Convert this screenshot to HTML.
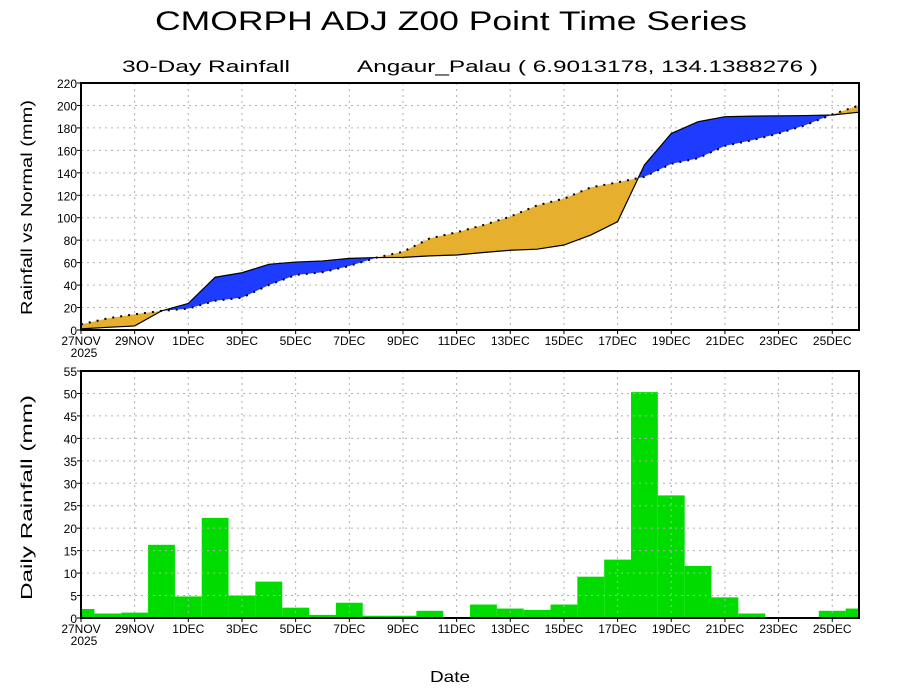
<!DOCTYPE html>
<html><head><meta charset="utf-8"><style>
html,body{margin:0;padding:0;background:#fff}
svg{display:block;font-family:"Liberation Sans",sans-serif}
</style></head><body>
<svg id="s" width="900" height="700" xmlns="http://www.w3.org/2000/svg"></svg>
<script>
const s=document.getElementById('s');
const X0=81,DX=26.83,XR=859;
const X=i=>X0+DX*i;
let h='';
h+='<text x="155" y="30" font-size="27" textLength="592" lengthAdjust="spacingAndGlyphs">CMORPH ADJ Z00 Point Time Series</text>';
h+='<text x="122" y="72" font-size="17" textLength="168" lengthAdjust="spacingAndGlyphs">30-Day Rainfall</text>';
h+='<text x="357" y="72" font-size="17" textLength="461" lengthAdjust="spacingAndGlyphs">Angaur_Palau ( 6.9013178, 134.1388276 )</text>';
const labels=['27NOV','29NOV','1DEC','3DEC','5DEC','7DEC','9DEC','11DEC','13DEC','15DEC','17DEC','19DEC','21DEC','23DEC','25DEC'];
function panel(yTop,yBot,max,step){
  const sc=(yBot-yTop)/max;
  const Y=v=>yBot-v*sc;
  let g='';
  for(let v=step;v<max;v+=step){g+=`<line x1="${X0}" x2="${XR}" y1="${Y(v)}" y2="${Y(v)}" stroke="#b0b0b0" stroke-dasharray="2,4"/>`;}
  for(let i=2;i<29;i+=2){g+=`<line x1="${X(i)}" x2="${X(i)}" y1="${yTop}" y2="${yBot}" stroke="#b0b0b0" stroke-dasharray="2,4"/>`;}
  return {Y,g};
}
const act=[1,2.4,3.6,17,23.7,47,51,58.5,60.5,61.5,63.8,64.5,64.7,66,66.8,69,71,72,75.7,84.6,96.5,147,175,185.5,190,190.5,190.7,191,191.5,194];
const nor=[5,10.4,14,17,19,26,28.8,40,49,51.4,57,64.4,69.7,81.6,87,93.5,101,111,117,127,131.5,136.5,148,153,164,169,175,182.5,192,200];
let T=panel(83,330,220,20);
h+=T.g;
const pa=act.map((v,i)=>`${X(i)},${T.Y(v)}`).join(' ');
const pn=nor.map((v,i)=>`${X(i)},${T.Y(v)}`).join(' ');
h+=`<defs><clipPath id="ua"><polygon points="${X0},330 ${pa} ${XR},330"/></clipPath><clipPath id="un"><polygon points="${X0},330 ${pn} ${XR},330"/></clipPath></defs>`;
h+=`<polygon points="${X0},83 ${pn} ${XR},83" fill="#1E3CFF" clip-path="url(#ua)"/>`;
h+=`<polygon points="${X0},83 ${pa} ${XR},83" fill="#E6AF2E" clip-path="url(#un)"/>`;
h+=`<polyline points="${pa}" fill="none" stroke="#000" stroke-width="1.2"/>`;
h+=`<polyline points="${pn}" fill="none" stroke="#000" stroke-width="2" stroke-dasharray="2,6"/>`;
h+=`<rect x="${X0}" y="83" width="${XR-X0}" height="247" fill="none" stroke="#000" stroke-width="2"/>`;
for(let v=0;v<=220;v+=20){h+=`<text x="77" y="${T.Y(v)+5}" font-size="12" text-anchor="end">${v}</text>`;h+=`<line x1="${X0-4}" x2="${X0}" y1="${T.Y(v)}" y2="${T.Y(v)}" stroke="#000"/>`;}
function xl(yb){let g='';labels.forEach((l,k)=>{g+=`<text x="${X(2*k)}" y="${yb+15}" font-size="12" text-anchor="middle">${l}</text><line x1="${X(2*k)}" x2="${X(2*k)}" y1="${yb}" y2="${yb+4}" stroke="#000"/>`;});g+=`<text x="84" y="${yb+27}" font-size="12" text-anchor="middle">2025</text>`;return g;}
h+=xl(330);
h+='<text transform="translate(32,315) rotate(-90)" font-size="16" textLength="215" lengthAdjust="spacingAndGlyphs">Rainfall vs Normal (mm)</text>';
const d=[2,1,1.2,16.3,4.8,22.3,5,8.1,2.3,0.7,3.4,0.5,0.5,1.6,0.2,3,2.1,1.8,3,9.2,13,50.3,27.3,11.6,4.6,1,0.2,0.2,1.6,2.1];
let B=panel(371,618,55,5);
let bars='';
d.forEach((v,i)=>{let x1=Math.max(X0,X(i)-DX/2),x2=Math.min(XR,X(i)+DX/2);bars+=`<rect x="${x1}" y="${B.Y(v)}" width="${x2-x1}" height="${618-B.Y(v)}" fill="#00DC00"/>`;});
h+=bars+B.g;
h+=`<rect x="${X0}" y="371" width="${XR-X0}" height="247" fill="none" stroke="#000" stroke-width="2"/>`;
for(let v=0;v<=55;v+=5){h+=`<text x="77" y="${B.Y(v)+5}" font-size="12" text-anchor="end">${v}</text>`;h+=`<line x1="${X0-4}" x2="${X0}" y1="${B.Y(v)}" y2="${B.Y(v)}" stroke="#000"/>`;}
h+=xl(618);
h+='<text transform="translate(32,600) rotate(-90)" font-size="16" textLength="205" lengthAdjust="spacingAndGlyphs">Daily Rainfall (mm)</text>';
h+='<text x="430" y="682" font-size="16" textLength="40" lengthAdjust="spacingAndGlyphs">Date</text>';
s.innerHTML=h;
</script>
</body></html>
